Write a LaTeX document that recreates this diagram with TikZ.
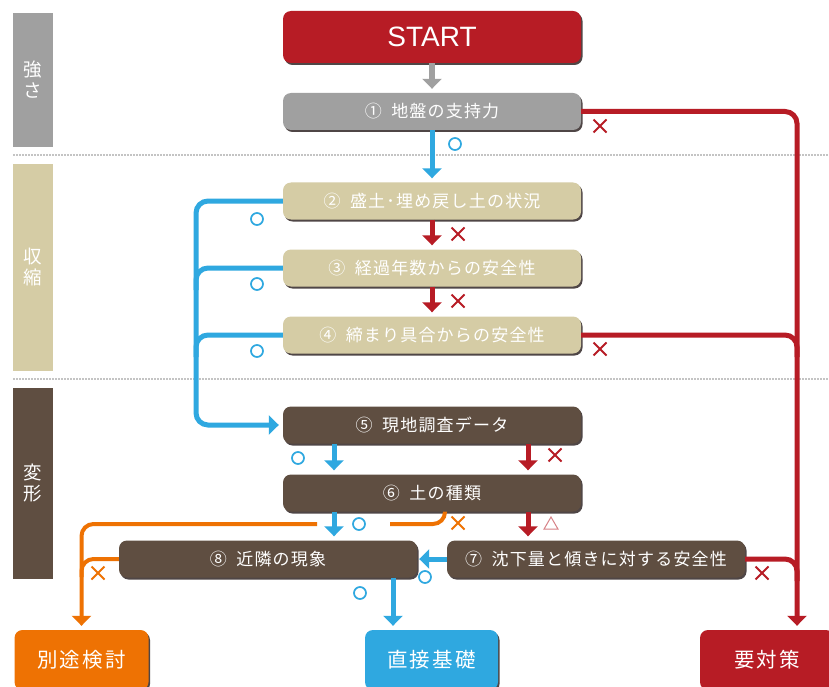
\documentclass[tikz,border=0pt]{standalone}
\usepackage{fontspec}
\setmainfont{Noto Sans CJK JP}
\newfontfamily\boxfont[LetterSpace=7,WordSpace=1.9]{Noto Sans CJK JP}
\newfontfamily\goalfont[LetterSpace=10]{Noto Sans CJK JP}
\newfontfamily\startfont{Liberation Sans}
\usetikzlibrary{arrows.meta,shadows,shapes.misc,shapes.geometric,calc}
\definecolor{kred}{HTML}{B71C25}
\definecolor{kgray}{HTML}{A0A0A0}
\definecolor{ktan}{HTML}{D5CCA5}
\definecolor{kbrown}{HTML}{5F4E41}
\definecolor{kblue}{HTML}{2FA8E0}
\definecolor{korange}{HTML}{EE7203}
\definecolor{kdot}{HTML}{C4C4C4}
\definecolor{kshadow}{HTML}{4F4646}
\tikzset{
  stage/.style={rectangle,rounded corners=8pt,minimum width=298pt,minimum height=37pt,inner sep=0pt,
    text=white,font=\boxfont\fontsize{17}{17}\selectfont,
    drop shadow={shadow xshift=1.5pt,shadow yshift=-2pt,fill=kshadow,opacity=1}},
  goal/.style={stage,minimum width=134pt,minimum height=60pt,font=\goalfont\fontsize{20.5}{20.5}\selectfont},
  sidebar/.style={rectangle,minimum width=40pt,inner sep=0pt,text=white,align=center,
    font=\fontsize{18.5}{21}\selectfont},
  flow/.style={line width=5pt,rounded corners=12pt,-{Triangle[width=19pt,length=10pt]},shorten >=4pt},
  branch/.style={line width=5pt,rounded corners=12pt},
  okmark/.style={circle,draw=kblue,line width=1.7pt,minimum size=12pt,inner sep=0pt},
  ngmark/.style={cross out,draw=kred,line width=2pt,minimum size=11pt,inner sep=0pt},
  trimark/.style={regular polygon,regular polygon sides=3,draw=kred!55,line width=1pt,minimum size=16pt,inner sep=0pt},
  divider/.style={draw=kdot,line width=1.2pt,dash pattern=on 1.5pt off 1.5pt}
}
\begin{document}
\begin{tikzpicture}[x=1pt,y=-1pt]
\fill[white] (0,0) rectangle (829,687);
\useasboundingbox (0,0) rectangle (829,687);
%\draw[step=50,gray,very thin] (0,0) grid (829,687);
\draw[divider] (13,155) -- (829,155);
\draw[divider] (13,379) -- (829,379);

% side labels
\node[sidebar,fill=kgray,minimum height=134pt] (bar1) at (33,80) {強\\さ};
\node[sidebar,fill=ktan,minimum height=207pt] (bar2) at (33,267.5) {収\\縮};
\node[sidebar,fill=kbrown,minimum height=191pt] (bar3) at (33,483.5) {変\\形};

% steps
\node[stage,fill=kred,minimum height=52pt,font=\startfont\fontsize{28}{28}\selectfont] (start) at (432,37) {START};
\node[stage,fill=kgray] (s1) at (432,111.5) {① 地盤の支持力};
\node[stage,fill=ktan] (s2) at (432,201) {② 盛土･埋め戻し土の状況};
\node[stage,fill=ktan] (s3) at (432,268) {③ 経過年数からの安全性};
\node[stage,fill=ktan] (s4) at (432,335) {④ 締まり具合からの安全性};
\node[stage,fill=kbrown] (s5) at (432,425) {⑤ 現地調査データ};
\node[stage,fill=kbrown] (s6) at (432,493) {⑥ 土の種類};
\node[stage,fill=kbrown] (s7) at (596,559) {⑦ 沈下量と傾きに対する安全性};
\node[stage,fill=kbrown] (s8) at (268,559) {⑧ 近隣の現象};

% results
\node[goal,fill=korange] (betto) at (81.5,660) {別途検討};
\node[goal,fill=kblue,minimum width=133pt] (chokusetsu) at (431.5,660) {直接基礎};
\node[goal,fill=kred] (taisaku) at (767,660) {要対策};

\coordinate (trunk) at (797,0);
\coordinate (bus) at (196,300);
\coordinate (ogapR) at (390,524);
\coordinate (ogapL) at (317,524);

% red: needs countermeasure
\draw[flow,draw=kred] (s1.east) -| (taisaku.north -| trunk);
\draw[branch,draw=kred] (s4.east) -| ($(s4.east -| trunk)+(0,22)$);
\draw[branch,draw=kred] (s7.east) -| ($(s7.east -| trunk)+(0,22)$);
\draw[flow,draw=kred] (s2.south) -- (s3.north);
\draw[flow,draw=kred] (s3.south) -- (s4.north);
\draw[flow,draw=kred] ($(s5.south)+(96,0)$) -- ($(s5.south |- s6.north)+(96,0)$);
\draw[flow,draw=kred] ($(s6.south)+(96,0)$) -- ($(s6.south |- s7.north)+(96,0)$);

% blue: ok
\draw[flow,draw=kgray,line width=6pt] (start.south) -- (s1.north);
\draw[flow,draw=kblue] (s1.south) -- (s2.north);
\draw[flow,draw=kblue] (s2.west) -| (bus) |- (s5.west);
\draw[branch,draw=kblue] (s3.west) -| ($(s3.west -| bus)+(0,22)$);
\draw[branch,draw=kblue] (s4.west) -| ($(s4.west -| bus)+(0,22)$);
\draw[flow,draw=kblue] ($(s5.south)+(-98,0)$) -- ($(s5.south |- s6.north)+(-98,0)$);
\draw[flow,draw=kblue] ($(s6.south)+(-98,0)$) -- ($(s6.south |- s8.north)+(-98,0)$);
\draw[flow,draw=kblue,shorten >=2pt] (s7.west) -- (s8.east);
\draw[flow,draw=kblue] ($(s8.south)+(125,0)$) -- ($(s8.south |- chokusetsu.north)+(125,0)$);

% orange: other study
\draw[branch,draw=korange,line width=4pt] ($(s6.south)+(13,0)$) |- (ogapR);
\draw[flow,draw=korange,line width=4pt] (ogapL) -| (betto.north);
\draw[branch,draw=korange,line width=4pt] (s8.west) -| ($(s8.west -| betto.north)+(0,18)$);

% marks
\node[okmark] (ok1) at (455,144) {};
\node[okmark] (ok2) at (257,219) {};
\node[okmark] (ok3) at (257,284) {};
\node[okmark] (ok4) at (257,351) {};
\node[okmark] (ok5) at (298,458) {};
\node[okmark] (ok6) at (359,524) {};
\node[okmark] (ok7) at (425,577) {};
\node[okmark] (ok8) at (360,593) {};
\node[ngmark] (ng1) at (600,126) {};
\node[ngmark] (ng2) at (458,234) {};
\node[ngmark] (ng3) at (458,301) {};
\node[ngmark] (ng4) at (600,349) {};
\node[ngmark] (ng5) at (555,455) {};
\node[ngmark] (ng6) at (762,573) {};
\node[ngmark,draw=korange] (ng7) at (458,523) {};
\node[ngmark,draw=korange] (ng8) at (98,573) {};
\node[trimark] (tri1) at (551,525) {};
\end{tikzpicture}
\end{document}
